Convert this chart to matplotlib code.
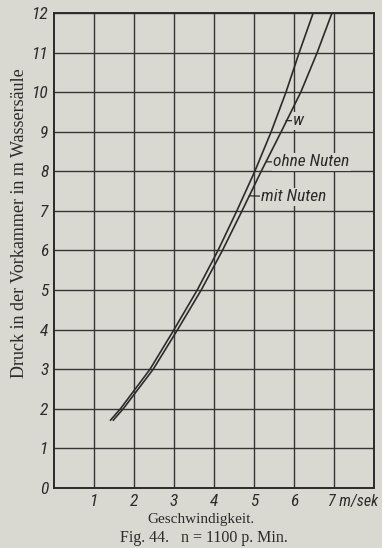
import numpy as np
import matplotlib.pyplot as plt
from matplotlib.transforms import ScaledTranslation

# Druck (m Wassersaeule) an den Rasterlinien
druck = [1.7, 2.0, 3.0, 4.0, 5.0, 6.0, 7.0, 8.0, 9.0, 10.0, 11.0, 12.0]
# Geschwindigkeit (m/sek) der beiden Kurven
v_mit = [1.40, 1.66, 2.40, 3.00, 3.58, 4.10, 4.57, 5.02, 5.43, 5.80, 6.13, 6.48]
v_ohne = [1.47, 1.73, 2.48, 3.09, 3.68, 4.21, 4.70, 5.18, 5.68, 6.17, 6.58, 6.95]

x_ticks = [1, 2, 3, 4, 5, 6, 7]
x_labels = ['1', '2', '3', '4', '5', '6', '7 m/sek']
y_ticks = list(range(0, 13))

# Beschriftungen: Text, Punkt auf der Kurve, Textposition
labels = [('w', (5.80, 9.28), (5.98, 9.28)),
          ('ohne Nuten', (5.31, 8.24), (5.48, 8.24)),
          ('mit Nuten', (4.88, 7.38), (5.18, 7.36))]

bg = '#d9d9d1'
ink = '#2b2b2b'
handfont = ['Liberation Sans Narrow', 'DejaVu Sans Condensed', 'Roboto Condensed', 'Liberation Sans']

fig = plt.figure(figsize=(3.82, 5.48), dpi=100, facecolor=bg)
ax = fig.add_axes([0.1414, 0.1095, 0.8376, 0.8668], facecolor=bg)

ax.set_xlim(0, 8)
ax.set_ylim(0, 12)
ax.set_xticks(x_ticks)
ax.set_xticklabels(x_labels, fontstyle='italic', family=handfont, fontsize=12.5, color=ink)
ax.set_yticks(y_ticks)
ax.set_yticklabels([str(t) for t in y_ticks], fontstyle='italic', family=handfont, fontsize=12.5, color=ink)
ax.tick_params(length=0, pad=4)
ax.grid(True, color='#353535', linewidth=1.0)
for s in ax.spines.values():
    s.set_linewidth(1.4)
    s.set_color(ink)

# "7 m/sek": die 7 sitzt auf der Rasterlinie, Einheit rechts daneben
last = ax.get_xticklabels()[-1]
last.set_ha('left')
last.set_fontsize(11.5)
last.set_transform(last.get_transform() + ScaledTranslation(-4 / 72, 0, fig.dpi_scale_trans))

ax.plot(v_mit, druck, color=ink, linewidth=1.2, solid_capstyle='butt')
ax.plot(v_ohne, druck, color=ink, linewidth=1.2, solid_capstyle='butt')

for txt, xy, xyt in labels:
    ax.annotate(txt, xy=xy, xytext=xyt, fontstyle='italic', family=handfont,
                fontsize=12.5, color=ink, va='center', ha='left',
                bbox=dict(facecolor=bg, edgecolor='none', pad=1),
                arrowprops=dict(arrowstyle='-', color=ink, lw=0.9, shrinkA=0, shrinkB=0))

fig.text(0.052, 0.593, 'Druck in der Vorkammer in m Wassersäule', rotation=90,
         ha='center', va='center', family='Liberation Serif', fontsize=13, color=ink)
fig.text(0.527, 0.052, 'Geschwindigkeit.', ha='center', va='center',
         family='Liberation Serif', fontsize=11, color=ink)
fig.text(0.533, 0.018, 'Fig. 44.   n = 1100 p. Min.', ha='center', va='center',
         family='Liberation Serif', fontsize=11.5, color=ink)

fig.savefig('out.png', dpi=100, facecolor=bg)
